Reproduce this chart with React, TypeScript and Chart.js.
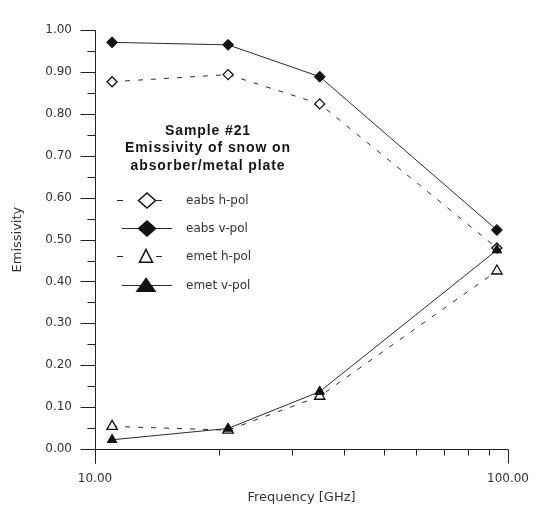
import React, { useEffect, useRef } from 'react';
import { Chart, registerables } from 'chart.js';

Chart.register(...registerables);

// ---- data ----
const frequencies = [11, 21, 35, 94];
const eabsH = [0.877, 0.894, 0.824, 0.48];
const eabsV = [0.971, 0.965, 0.889, 0.523];
const emetH = [0.054, 0.045, 0.126, 0.425];
const emetV = [0.022, 0.049, 0.137, 0.475];
const seriesLabels = ['eabs h-pol', 'eabs v-pol', 'emet h-pol', 'emet v-pol'];
const titleLines = ['Sample #21', 'Emissivity of snow on', 'absorber/metal plate'];
const xTitle = 'Frequency [GHz]';
const yTitle = 'Emissivity';

const LINE = '#2a2a2a';
const AXIS = '#222';
const TEXT = '#333';
const DASH = [5, 8];

const toPoints = (ys: number[]) => frequencies.map((f, i) => ({ x: f, y: ys[i] }));

function drawMarker(ctx: CanvasRenderingContext2D, style: string, x: number, y: number, hw: number, hh: number, filled: boolean) {
  ctx.beginPath();
  if (style === 'rectRot') {
    ctx.moveTo(x - hw, y);
    ctx.lineTo(x, y - hh);
    ctx.lineTo(x + hw, y);
    ctx.lineTo(x, y + hh);
  } else {
    ctx.moveTo(x, y - hh);
    ctx.lineTo(x + hw, y + hh * 0.6);
    ctx.lineTo(x - hw, y + hh * 0.6);
  }
  ctx.closePath();
  ctx.fillStyle = filled ? '#111' : '#fff';
  ctx.fill();
  ctx.lineWidth = 1.5;
  ctx.strokeStyle = '#111';
  ctx.stroke();
}

const axesPlugin = {
  id: 'paperAxes',
  beforeDatasetsDraw(chart: any) {
    const { ctx, chartArea, scales } = chart;
    const xs = scales.x;
    const ys = scales.y;
    ctx.save();
    ctx.strokeStyle = AXIS;
    ctx.lineWidth = 1;
    const left = Math.round(chartArea.left) + 0.5;
    const bottom = Math.round(chartArea.bottom) + 0.5;
    ctx.beginPath();
    ctx.moveTo(left, chartArea.top);
    ctx.lineTo(left, bottom + 14);
    ctx.moveTo(left - 14, bottom);
    ctx.lineTo(Math.round(chartArea.right) + 0.5, bottom);
    ys.ticks.forEach((t: any, i: number) => {
      const y = Math.round(ys.getPixelForValue(t.value)) + 0.5;
      ctx.moveTo(left - 15, y);
      ctx.lineTo(left, y);
      if (i < ys.ticks.length - 1) {
        const mid = (t.value + ys.ticks[i + 1].value) / 2;
        const ym = Math.round(ys.getPixelForValue(mid)) + 0.5;
        ctx.moveTo(left - 8, ym);
        ctx.lineTo(left, ym);
      }
    });
    xs.ticks.forEach((t: any) => {
      const x = Math.round(xs.getPixelForValue(t.value)) + 0.5;
      const lg = Math.log10(t.value);
      const major = Math.abs(lg - Math.round(lg)) < 1e-9;
      ctx.moveTo(x, bottom);
      ctx.lineTo(x, bottom + (major ? 14 : 6));
    });
    ctx.stroke();
    ctx.restore();
  },
};

const legendPlugin = {
  id: 'paperLegend',
  afterDatasetsDraw(chart: any) {
    const { ctx } = chart;
    ctx.save();
    ctx.font = 'bold 14px "Liberation Sans", Arial, sans-serif';
    (ctx as any).letterSpacing = '0.9px';
    ctx.fillStyle = '#151515';
    ctx.textAlign = 'center';
    ctx.textBaseline = 'middle';
    titleLines.forEach((line, i) => ctx.fillText(line, 208, 131 + i * 17.5));
    (ctx as any).letterSpacing = '0px';

    chart.data.datasets.forEach((ds: any) => {
      const i = seriesLabels.indexOf(ds.label);
      const y = Math.round(200 + i * 28.2) + 0.5;
      ctx.strokeStyle = LINE;
      ctx.lineWidth = 1;
      ctx.beginPath();
      if (ds.borderDash && ds.borderDash.length) {
        ctx.moveTo(117, y);
        ctx.lineTo(123, y);
        ctx.moveTo(156, y);
        ctx.lineTo(162, y);
      } else {
        ctx.moveTo(122, y);
        ctx.lineTo(172, y);
      }
      ctx.stroke();
      const filled = ds.pointBackgroundColor !== '#fff';
      if (ds.pointStyle === 'rectRot') {
        drawMarker(ctx, 'rectRot', 147, y, 8.5, 7.5, filled);
      } else if (filled) {
        drawMarker(ctx, 'triangle', 146, y + 1, 9, 8, true);
      } else {
        drawMarker(ctx, 'triangle', 146, y + 1, 6.5, 8, false);
      }
      ctx.fillStyle = TEXT;
      ctx.font = '12px "DejaVu Sans", sans-serif';
      ctx.textAlign = 'left';
      ctx.textBaseline = 'middle';
      ctx.fillText(ds.label, 186, y);
    });
    ctx.restore();
  },
};

export default function App() {
  const canvasRef = useRef<HTMLCanvasElement | null>(null);

  useEffect(() => {
    const canvas = canvasRef.current;
    if (!canvas) return;
    const chart = new Chart(canvas, {
      type: 'line',
      data: {
        datasets: [
          {
            label: seriesLabels[3],
            data: toPoints(emetV),
            order: 0,
            borderColor: LINE,
            borderWidth: 1,
            pointStyle: 'triangle',
            pointRadius: 5.5,
            pointBackgroundColor: '#111',
            pointBorderColor: '#111',
            pointBorderWidth: 1,
          },
          {
            label: seriesLabels[1],
            data: toPoints(eabsV),
            order: 1,
            borderColor: LINE,
            borderWidth: 1,
            pointStyle: 'rectRot',
            pointRadius: 5.5,
            pointBackgroundColor: '#111',
            pointBorderColor: '#111',
            pointBorderWidth: 1,
          },
          {
            label: seriesLabels[2],
            data: toPoints(emetH),
            order: 2,
            borderColor: LINE,
            borderWidth: 1,
            borderDash: DASH,
            pointStyle: 'triangle',
            pointRadius: 6,
            pointBackgroundColor: '#fff',
            pointBorderColor: '#111',
            pointBorderWidth: 1.3,
          },
          {
            label: seriesLabels[0],
            data: toPoints(eabsH),
            order: 3,
            borderColor: LINE,
            borderWidth: 1,
            borderDash: DASH,
            pointStyle: 'rectRot',
            pointRadius: 5,
            pointBackgroundColor: '#fff',
            pointBorderColor: '#111',
            pointBorderWidth: 1.3,
          },
        ],
      },
      options: {
        responsive: false,
        devicePixelRatio: 1,
        animation: false,
        layout: { padding: { top: 14, right: 22, left: 0, bottom: 0 } },
        plugins: { legend: { display: false }, tooltip: { enabled: false } },
        elements: { line: { tension: 0 } },
        scales: {
          x: {
            type: 'logarithmic',
            min: 10,
            max: 100,
            grid: { display: false, drawTicks: false },
            border: { display: false },
            afterFit: (s: any) => { s.height = 60; },
            afterBuildTicks: (s: any) => {
              s.ticks = s.ticks.filter((t: any) => {
                const q = t.value / 10;
                return Math.abs(q - Math.round(q)) < 1e-9;
              });
            },
            ticks: {
              autoSkip: false,
              maxRotation: 0,
              padding: 23,
              color: TEXT,
              font: { family: 'DejaVu Sans', size: 12 },
              callback: (v: any) => {
                const n = Number(v);
                return n === 10 || n === 100 ? n.toFixed(2) : '';
              },
            },
            title: {
              display: true,
              text: xTitle,
              color: TEXT,
              font: { family: 'DejaVu Sans', size: 13 },
              padding: { top: 0, bottom: 4 },
            },
          },
          y: {
            min: 0,
            max: 1,
            grid: { display: false, drawTicks: false },
            border: { display: false },
            afterFit: (s: any) => { s.width = 95; },
            ticks: {
              stepSize: 0.1,
              padding: 23,
              color: TEXT,
              font: { family: 'DejaVu Sans', size: 12 },
              callback: (v: any) => Number(v).toFixed(2),
            },
            title: {
              display: true,
              text: yTitle,
              color: TEXT,
              font: { family: 'DejaVu Sans', size: 13 },
              padding: { top: 10, bottom: 0 },
            },
          },
        },
      },
      plugins: [axesPlugin, legendPlugin],
    } as any);
    return () => chart.destroy();
  }, []);

  return (
    <div style={{ position: 'absolute', left: 0, top: 0, width: 552, height: 509, background: '#fff' }}>
      <canvas ref={canvasRef} width={552} height={509} style={{ display: 'block' }} />
    </div>
  );
}
